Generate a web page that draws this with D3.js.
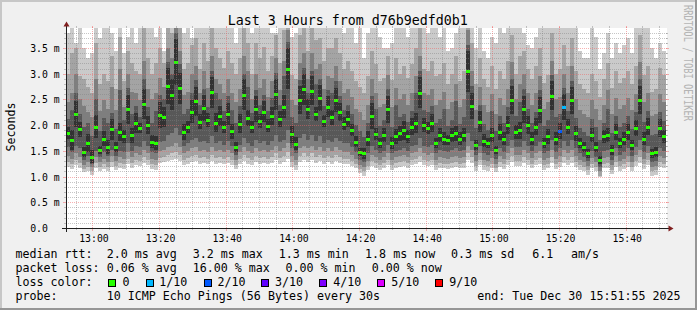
<!DOCTYPE html>
<html><head><meta charset="utf-8">
<script src="https://cdn.jsdelivr.net/npm/d3@7"></script>
<style>
html,body{margin:0;padding:0;background:#f0f0f0;}
svg{display:block;}
text{font-family:"DejaVu Sans Mono",monospace;fill:#000;}
</style>
</head><body>
<svg id="c" width="697" height="310"></svg>
<script>
// ---- DATA (values in 0.01 ms) : 150 consolidated columns over the last 3 hours ----
const med = [185,171,222,192,148,165,139,197,152,174,158,192,157,187,178,231,180,204,194,241,200,168,165,220,216,276,259,323,272,187,197,226,246,207,233,210,264,205,218,196,222,188,158,203,259,214,196,232,208,226,199,218,260,212,236,310,182,164,249,270,231,267,222,253,208,236,215,249,226,203,212,190,168,148,145,174,218,183,165,181,231,165,178,184,190,178,197,204,263,200,194,204,165,181,174,171,181,184,174,181,305,237,161,207,170,165,181,152,187,174,200,249,187,190,231,200,174,197,229,165,178,257,174,189,235,197,248,184,165,158,145,181,158,132,178,181,152,187,165,174,187,161,194,249,174,197,145,148,194,178];
// lost pings (out of 10) per column
const loss = [0,0,0,0,0,0,0,0,0,0,0,0,0,0,0,0,0,0,0,0,0,0,0,0,0,0,0,0,0,0,0,0,0,0,0,0,0,0,0,0,0,0,0,0,0,0,0,0,0,0,0,0,0,0,0,0,0,0,0,0,0,0,0,0,0,0,0,0,0,0,0,0,0,0,0,0,0,0,0,0,0,0,0,0,0,0,0,0,0,0,0,0,0,0,0,0,0,0,0,0,0,0,0,0,0,0,0,0,0,0,0,0,0,0,0,0,0,0,0,0,0,0,0,2,1,0,0,0,0,0,0,0,0,0,0,0,0,0,0,0,0,0,0,0,0,0,0,0,0,0];
// sorted ping times (smoke): p1 = fastest ... p10 = slowest
const p1 = [118,115,122,116,108,110,104,117,110,115,110,118,112,117,115,124,117,122,120,126,122,115,113,126,128,130,132,134,130,122,125,128,130,125,127,124,130,125,127,124,127,122,114,124,130,125,122,128,125,127,124,127,132,125,128,134,118,113,128,132,128,132,126,130,124,128,124,130,126,124,124,120,116,106,102,112,120,117,113,117,122,113,117,118,120,117,122,124,128,122,120,122,113,117,116,115,117,118,116,117,132,126,111,122,113,111,116,108,118,115,122,128,120,120,126,122,116,122,125,113,116,126,115,118,126,122,126,118,113,110,104,116,110,100,116,117,105,118,111,115,118,110,120,126,115,122,102,104,118,116];
const p2 = [128,125,132,126,115,118,110,126,118,124,118,128,120,126,124,135,126,132,130,138,132,124,122,136,138,142,145,148,142,132,136,140,142,136,138,135,142,136,138,135,138,132,122,135,142,136,132,140,136,138,135,138,145,136,140,148,128,122,140,145,140,145,138,142,136,140,136,142,138,135,135,130,125,114,110,120,130,126,122,126,132,122,126,128,130,126,132,135,140,132,130,132,122,126,125,124,126,128,125,126,145,138,120,132,122,120,125,116,128,124,132,140,130,130,138,132,125,132,136,122,125,138,124,128,138,132,138,128,122,118,112,125,118,102,125,126,113,128,120,124,128,118,130,138,124,132,110,112,128,125];
const p3 = [140,135,145,138,122,128,118,138,128,135,128,140,130,138,135,148,138,145,142,152,145,135,132,150,152,158,160,165,158,145,150,155,158,150,152,148,158,150,152,148,152,145,132,148,158,150,145,155,150,152,148,152,160,150,155,165,140,132,155,160,155,160,152,158,150,155,150,158,152,148,148,142,135,122,118,130,142,138,132,138,145,132,138,140,142,138,145,148,155,145,142,145,132,138,136,135,138,140,136,138,160,152,130,145,132,130,136,125,140,135,145,155,142,142,152,145,136,145,150,132,136,152,135,140,152,145,152,140,132,128,120,136,128,110,136,138,122,140,130,135,140,128,142,152,135,145,118,120,140,136];
const p4 = [158,148,160,155,132,140,125,150,138,148,140,152,140,150,148,165,150,160,158,170,160,148,145,168,170,180,185,195,180,160,165,172,175,168,170,165,178,165,170,162,170,160,142,162,175,165,160,172,165,170,162,170,180,168,172,190,155,145,175,182,172,180,170,178,165,172,168,175,170,165,165,158,148,132,128,145,160,152,145,150,162,145,150,152,155,150,160,162,175,160,158,162,145,152,150,148,152,155,150,152,185,170,142,160,145,142,150,135,155,148,160,172,158,158,170,160,150,160,168,145,150,172,148,155,170,160,172,155,145,138,130,150,138,118,150,152,132,155,142,148,155,140,158,172,148,160,128,130,155,150];
const p5 = [173,151,197,177,138,147,127,175,144,159,144,172,147,169,166,203,165,184,184,211,182,156,151,195,196,241,229,278,242,172,185,204,218,192,208,196,234,187,198,184,200,173,148,185,229,198,184,207,194,206,187,200,230,197,214,270,166,152,221,240,211,239,208,228,196,216,200,225,208,191,197,178,158,140,135,160,193,171,155,167,205,153,163,170,172,166,181,184,233,186,182,186,155,167,162,161,167,169,162,167,265,211,151,187,158,155,167,144,171,162,182,221,173,174,205,182,162,181,204,155,164,229,162,173,210,183,222,170,155,148,137,167,148,124,166,167,142,171,155,162,172,151,178,221,162,181,137,138,176,166];
const p6 = [197,191,247,207,158,183,151,219,160,189,172,212,167,205,190,259,195,224,204,271,218,180,179,245,236,311,289,368,302,202,209,248,274,222,258,224,294,223,238,208,244,203,168,221,289,230,208,257,222,246,211,236,290,227,258,350,198,176,277,300,251,295,236,278,220,256,230,273,244,215,227,202,178,156,155,188,243,195,175,195,257,177,193,198,208,190,213,224,293,214,206,222,175,195,186,181,195,199,186,195,345,263,171,227,182,175,195,160,203,186,218,277,201,206,257,218,186,213,254,175,192,285,186,205,260,211,274,198,175,168,153,195,168,140,190,195,162,203,175,186,202,171,210,277,186,213,153,158,212,190];
const p7 = [212,230,262,222,196,205,178,250,188,214,205,224,192,268,210,272,222,238,216,290,236,205,228,258,250,322,300,380,318,222,232,262,288,240,270,236,305,262,250,228,256,230,205,238,300,275,224,268,240,258,228,252,302,240,295,362,215,205,288,312,262,305,280,290,238,268,262,285,256,230,240,222,200,188,176,205,256,232,198,210,270,196,240,215,222,206,228,262,305,230,226,238,205,212,232,198,210,246,202,215,356,276,195,240,202,190,228,188,218,205,236,290,218,245,270,232,205,226,268,198,210,298,215,222,272,228,286,214,195,186,178,212,196,172,205,232,185,218,196,204,218,192,225,290,206,228,180,182,226,208];
const p8 = [245,262,300,250,238,226,215,290,228,248,232,275,230,310,236,300,265,262,248,325,270,250,262,292,275,350,330,395,345,258,265,300,315,262,305,272,335,290,280,262,290,262,245,270,335,305,250,300,272,290,255,285,330,268,325,385,248,240,320,340,290,340,310,318,270,295,292,315,285,262,270,255,232,225,210,240,290,262,235,242,298,236,272,250,260,240,262,295,335,262,258,270,240,248,265,232,245,280,236,250,385,305,230,275,240,225,260,222,252,240,270,322,250,280,300,262,240,262,295,232,245,325,250,255,300,262,315,250,230,222,215,248,232,210,240,268,222,252,232,240,252,230,260,322,245,262,218,222,260,245];
const p9 = [300,340,350,295,290,275,262,360,280,300,285,335,270,372,285,345,320,305,300,395,330,300,320,350,320,410,380,420,400,310,320,355,370,310,360,325,395,350,330,312,345,320,300,330,395,360,300,360,330,352,305,335,375,320,385,430,298,290,375,395,345,400,365,370,325,350,350,370,340,310,325,305,285,275,262,295,345,318,285,292,335,288,330,300,315,292,318,350,392,310,305,325,295,300,320,280,300,335,285,305,430,360,280,330,290,275,315,270,305,290,325,375,300,335,345,310,290,315,350,282,298,380,300,310,355,315,370,305,280,270,262,300,285,255,290,320,272,305,282,292,305,280,315,375,298,315,265,270,312,298];
const p10 = [380,420,360,400,350,330,340,430,370,395,400,380,345,420,340,372,410,360,390,450,400,420,372,430,345,480,450,500,470,380,420,370,460,400,430,410,470,420,390,400,430,400,360,420,460,440,380,430,410,440,390,380,380,420,450,500,372,380,440,460,420,470,440,450,400,430,420,460,410,380,400,390,360,400,330,380,420,400,372,350,350,360,420,392,400,372,410,430,460,400,380,410,390,372,400,345,350,380,400,420,500,440,350,410,345,330,372,360,400,380,410,450,400,420,380,355,350,372,430,392,400,460,390,420,440,410,450,400,345,330,330,392,372,310,340,380,330,360,340,355,370,340,390,440,400,420,350,330,360,345];

const yTickValues = [0,50,100,150,200,250,300,350];
const yTickLabels = ["0.0","0.5 m","1.0 m","1.5 m","2.0 m","2.5 m","3.0 m","3.5 m"];
const lossLabels = ["0","1/10","2/10","3/10","4/10","5/10","9/10"];
const lossLevels = [0,1,2,3,4,5,9];
const lossColors = ["#26ff00","#00b8ff","#0059ff","#5e00ff","#7e00ff","#dd00ff","#ff0000"];
const smokeColors = ["#cacaca","#a4a4a4","#7e7e7e","#585858","#323232"];
const titleText = "Last 3 Hours from d76b9edfd0b1";
const legendRtt = [["median rtt:",15.4],["2.0 ms avg",106.7],["3.2 ms max",192.7],["1.3 ms min",278.7],["1.8 ms now",365.1],["0.3 ms sd",451.1],["6.1",532.2],["am/s",571.1]];
const legendLoss = [["packet loss:",15.4],["0.06 % avg",106.7],["16.00 % max",192.7],["0.00 % min",285.4],["0.00 % now",371.7]];
const lossBoxX = [108.5,146,204,261.5,319.5,377.5,435.5];
const lossTextX = [122.5,159.2,217.5,275,333.2,391.2,449.2];

// ---- LAYOUT ----
const X0 = 66, X1 = 666, Y0 = 228, Y1 = 28;
const endTime = new Date(Date.UTC(2025,11,30,15,51,55));
const startTime = new Date(+endTime - 3*3600*1000);
const x = d3.scaleUtc().domain([startTime,endTime]).range([X0,X1]);
const y = d3.scaleLinear().domain([0,388.9]).range([Y0,Y1]);
const n = med.length;
const times = d3.range(n+1).map(i => new Date(+startTime + i*(10800000/n)));

const svg = d3.select("#c");
svg.append("rect").attr("width",697).attr("height",310).attr("fill","#f0f0f0");
svg.append("rect").attr("x",0).attr("y",0).attr("width",697).attr("height",2).attr("fill","#c7c7c7");
svg.append("rect").attr("x",0).attr("y",0).attr("width",2).attr("height",310).attr("fill","#c7c7c7");
svg.append("rect").attr("x",0).attr("y",308).attr("width",697).attr("height",2).attr("fill","#969696");
svg.append("rect").attr("x",695).attr("y",0).attr("width",2).attr("height",310).attr("fill","#969696");

svg.append("rect").attr("x",X0).attr("y",Y1).attr("width",X1-X0+1).attr("height",Y0-Y1).attr("fill","#fff");

svg.append("clipPath").attr("id","plot").append("rect").attr("x",X0).attr("y",Y1).attr("width",X1-X0).attr("height",Y0-Y1);
const plot = svg.append("g").attr("clip-path","url(#plot)").attr("shape-rendering","crispEdges");

const lows = [p1,p2,p3,p4,p5], highs = [p10,p9,p8,p7,p6];
smokeColors.forEach((col,k) => {
  plot.append("g").selectAll("rect").data(d3.range(n)).join("rect")
    .attr("x", i => x(times[i]))
    .attr("width", i => x(times[i+1]) - x(times[i]))
    .attr("y", i => y(highs[k][i]))
    .attr("height", i => Math.max(0, y(lows[k][i]) - y(highs[k][i])))
    .attr("fill", col);
});
function lossColor(l){ let c = lossColors[0]; lossLevels.forEach((lv,j)=>{ if (l >= lv) c = lossColors[j]; }); return c; }
plot.append("g").selectAll("rect").data(d3.range(n)).join("rect")
  .attr("x", i => x(times[i]))
  .attr("width", i => x(times[i+1]) - x(times[i]))
  .attr("y", i => Math.round(y(med[i])) - 1)
  .attr("height", 3)
  .attr("fill", i => lossColor(loss[i]));

// ---- GRID ----
const gridC = "rgba(128,128,128,0.45)", mgridC = "rgba(240,100,100,0.5)";
const grid = svg.append("g").attr("shape-rendering","crispEdges");
const py = v => Math.round(y(v)) + 0.5;
const yMinor = d3.range(10, 389, 10).filter(v => v % 50 !== 0);
yMinor.forEach(v => {
  grid.append("line").attr("x1",X0-2).attr("x2",X0).attr("y1",py(v)).attr("y2",py(v)).attr("stroke",gridC);
  grid.append("line").attr("x1",X1).attr("x2",X1+2).attr("y1",py(v)).attr("y2",py(v)).attr("stroke",gridC);
  grid.append("line").attr("x1",X0).attr("x2",X1+1).attr("y1",py(v)).attr("y2",py(v)).attr("stroke",gridC).attr("stroke-dasharray","1,1");
});
yTickValues.filter(v => v > 0).forEach(v => {
  grid.append("line").attr("x1",X0-3).attr("x2",X0).attr("y1",py(v)).attr("y2",py(v)).attr("stroke",mgridC);
  grid.append("line").attr("x1",X1).attr("x2",X1+3).attr("y1",py(v)).attr("y2",py(v)).attr("stroke",mgridC);
  grid.append("line").attr("x1",X0).attr("x2",X1+2).attr("y1",py(v)).attr("y2",py(v)).attr("stroke",mgridC).attr("stroke-dasharray","1,1");
});
const px = d => Math.floor(x(d)) + 0.5;
const xMinor = d3.utcMinute.every(5).range(startTime,endTime).filter(d => d.getUTCMinutes() % 20 !== 0);
const xMajor = d3.utcMinute.every(20).range(startTime,endTime);
xMinor.forEach(d => {
  grid.append("line").attr("x1",px(d)).attr("x2",px(d)).attr("y1",Y0).attr("y2",Y0+2).attr("stroke",gridC);
  grid.append("line").attr("x1",px(d)).attr("x2",px(d)).attr("y1",Y1-2).attr("y2",Y1).attr("stroke",gridC);
  grid.append("line").attr("x1",px(d)).attr("x2",px(d)).attr("y1",Y0).attr("y2",Y1).attr("stroke",gridC).attr("stroke-dasharray","1,1");
});
xMajor.forEach(d => {
  grid.append("line").attr("x1",px(d)).attr("x2",px(d)).attr("y1",Y0).attr("y2",Y0+3).attr("stroke",mgridC);
  grid.append("line").attr("x1",px(d)).attr("x2",px(d)).attr("y1",Y1-2).attr("y2",Y1).attr("stroke",mgridC);
  grid.append("line").attr("x1",px(d)).attr("x2",px(d)).attr("y1",Y0).attr("y2",Y1-2).attr("stroke",mgridC).attr("stroke-dasharray","1,1");
});

// ---- AXES ----
const ax = svg.append("g").attr("shape-rendering","crispEdges");
ax.append("line").attr("x1",X0-4).attr("x2",X1+4).attr("y1",Y0+0.5).attr("y2",Y0+0.5).attr("stroke","#1f1f1f");
ax.append("line").attr("x1",X0+0.5).attr("x2",X0+0.5).attr("y1",Y0+4).attr("y2",Y1-4).attr("stroke","#1f1f1f");
svg.append("path").attr("d",`M${X1+2.5},${Y0-2.5}L${X1+2.5},${Y0+3.5}L${X1+7.5},${Y0+0.5}Z`).attr("fill","#801f1f");
svg.append("path").attr("d",`M${X0-2.5},${Y1-1.5}L${X0+3.5},${Y1-1.5}L${X0+0.5},${Y1-6.5}Z`).attr("fill","#801f1f");

const xAxis = d3.axisBottom(x).tickValues(xMajor).tickFormat(d3.utcFormat("%H:%M")).tickSize(0).tickPadding(0);
const gx = svg.append("g").attr("transform",`translate(0.5,${Y0})`).call(xAxis);
gx.select(".domain").remove();
gx.selectAll("text").attr("dy",null).attr("y",13.5).style("font-size","9.8px").style("font-family","DejaVu Sans Mono");

const yAxis = d3.axisLeft(y).tickValues(yTickValues).tickFormat((d,i) => yTickLabels[i]).tickSize(0);
const gy = svg.append("g").call(yAxis);
gy.select(".domain").remove();
gy.selectAll(".tick").attr("transform", d => `translate(0,${Math.round(y(d))})`);
gy.selectAll("text").attr("text-anchor","start").attr("x",30.2).attr("dy",null).attr("y",3.7)
  .style("font-size","9.8px").style("font-family","DejaVu Sans Mono");

// ---- TEXTS ----
svg.append("text").attr("x",347.8).attr("y",24.5).attr("text-anchor","middle").style("font-size","13.3px").text(titleText);
svg.append("text").attr("transform","translate(14.6,127) rotate(-90)").attr("text-anchor","middle").style("font-size","11.65px").text("Seconds");
svg.append("text").attr("transform","translate(684,5) rotate(90)").attr("textLength",116).attr("lengthAdjust","spacingAndGlyphs")
  .style("font-size","12.3px").style("fill","#b4b4b4").text("RRDTOOL / TOBI OETIKER");

const lg = svg.append("g").style("font-size","11.65px").attr("xml:space","preserve");
legendRtt.forEach(([t,xx]) => lg.append("text").attr("x",xx).attr("y",258).text(t));
legendLoss.forEach(([t,xx]) => lg.append("text").attr("x",xx).attr("y",272).text(t));
lg.append("text").attr("x",15.4).attr("y",286).text("loss color:");
lossLabels.forEach((t,j) => {
  svg.append("rect").attr("x",lossBoxX[j]).attr("y",279.5).attr("width",7).attr("height",7)
    .attr("fill",lossColors[j]).attr("stroke","#000").attr("stroke-width",1).attr("shape-rendering","crispEdges");
  lg.append("text").attr("x",lossTextX[j]).attr("y",286).text(t);
});
lg.append("text").attr("x",15.4).attr("y",299.5).text("probe:");
lg.append("text").attr("x",106.7).attr("y",299.5).text("10 ICMP Echo Pings (56 Bytes) every 30s");
lg.append("text").attr("x",680.5).attr("y",299.5).attr("text-anchor","end").text("end: Tue Dec 30 15:51:55 2025");
</script>
</body></html>
